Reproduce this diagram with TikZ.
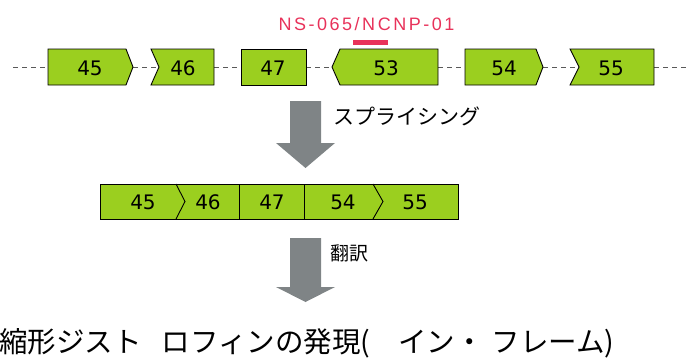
\documentclass[tikz,border=0pt]{standalone}
\usepackage{fontspec}
\newfontfamily\numfont{DejaVu Sans}
\newfontfamily\jpfont{Noto Sans CJK JP}
\newfontfamily\redfont[LetterSpace=14]{Liberation Sans}
\definecolor{exongreen}{HTML}{9BCF1F}
\definecolor{arrowgray}{HTML}{7F8486}
\definecolor{labelred}{HTML}{E8325A}
\begin{document}
\begin{tikzpicture}[x=1pt,y=-1pt,
  exonbox/.style={fill=exongreen,draw=black,line width=0.9pt,line join=miter},
  divider/.style={draw=black,line width=0.9pt},
  num/.style={font=\numfont\fontsize{20}{22}\selectfont,inner sep=0pt},
  intron/.style={draw=black!65,dash pattern=on 5pt off 4pt,line width=0.8pt},
  bigarrow/.style={fill=arrowgray},
  jplabel/.style={inner sep=0pt,anchor=west}]
\useasboundingbox (0,0) rectangle (688,359);
% intron connector coordinates
\coordinate (L) at (13,67);
\coordinate (R) at (688,67);
\coordinate (e45w) at (48,67);   \coordinate (e45e) at (133,67);
\coordinate (e46w) at (159,67);  \coordinate (e46e) at (214,67);
\coordinate (e47w) at (241,67);  \coordinate (e47e) at (306,67);
\coordinate (e53w) at (332,67);  \coordinate (e53e) at (438,67);
\coordinate (e54w) at (465,67);  \coordinate (e54e) at (543,67);
\coordinate (e55w) at (579,67);  \coordinate (e55e) at (654,67);
\draw[intron] (L) -- (e45w);
\draw[intron] (e45e) -- (e46w);
\draw[intron] (e46e) -- (e47w);
\draw[intron] (e47e) -- (e53w);
\draw[intron] (e53e) -- (e54w);
\draw[intron] (e54e) -- (e55w);
\draw[intron] (e55e) -- (R);
% exons
\path[exonbox] (48,49) -- (126,49) -- (133,67) -- (126,85) -- (48,85) -- cycle;
\path[exonbox] (151,49) -- (214,49) -- (214,85) -- (151,85) -- (159,67) -- cycle;
\path[exonbox] (241,49) rectangle (306,85);
\path[exonbox] (340,49) -- (438,49) -- (438,85) -- (340,85) -- (332,67) -- cycle;
\path[exonbox] (465,49) -- (536,49) -- (543,67) -- (536,85) -- (465,85) -- cycle;
\path[exonbox] (570,49) -- (654,49) -- (654,85) -- (570,85) -- (579,67) -- cycle;
\node[num] (t45) at (90,68) {45};
\node[num] (t46) at (183,68) {46};
\node[num] (t47) at (273,68) {47};
\node[num] (t53) at (386,68) {53};
\node[num] (t54) at (504,68) {54};
\node[num] (t55) at (611,68) {55};
% target label
\fill[labelred] (353,40) rectangle (388,45);
\node[font=\redfont\fontsize{18}{20}\selectfont,text=labelred,inner sep=0pt] (target) at (366.5,24) {NS-065/NCNP-01};
% splicing arrow
\fill[bigarrow] (290,101) -- (321,101) -- (321,143) -- (335,143) -- (305.5,168) -- (276,143) -- (290,143) -- cycle;
\node[jplabel,font=\jpfont\fontsize{21}{23}\selectfont] (splice) at (333,116) {スプライシング};
% mRNA
\path[exonbox] (100,184) rectangle (458,219);
\draw[divider] (176,184) -- (185,201.5) -- (176,219);
\draw[divider] (239,184) -- (239,219);
\draw[divider] (304,184) -- (304,219);
\draw[divider] (373,184) -- (383,201.5) -- (373,219);
\node[num] (m45) at (143,202) {45};
\node[num] (m46) at (208,202) {46};
\node[num] (m47) at (272,202) {47};
\node[num] (m54) at (343,202) {54};
\node[num] (m55) at (415,202) {55};
% translation arrow
\fill[bigarrow] (290,238) -- (321,238) -- (321,287) -- (335,287) -- (305.5,302) -- (276,287) -- (290,287) -- cycle;
\node[jplabel,font=\jpfont\fontsize{19}{21}\selectfont] (transl) at (330,253) {翻訳};
% result
\node[jplabel,font=\jpfont\fontsize{28.5}{31}\selectfont] (result) at (-1,343) {縮形ジスト\hspace{20pt}ロフィンの発現(\hspace{28pt}イン・\hspace{8pt}フレーム)};
\end{tikzpicture}
\end{document}
